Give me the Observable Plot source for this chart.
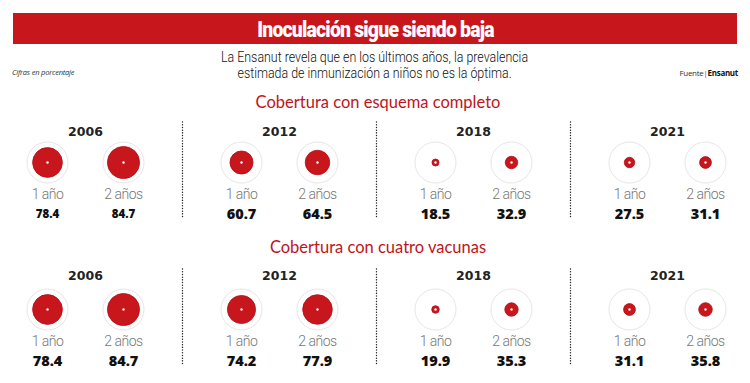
<!DOCTYPE html>
<html><head><meta charset="utf-8">
<script src="https://cdn.jsdelivr.net/npm/d3@7"></script>
<script src="https://cdn.jsdelivr.net/npm/@observablehq/plot@0.6"></script>
<style>
body{margin:0;width:750px;height:383px;overflow:hidden;background:#fff;position:relative;font-family:Roboto,sans-serif;color:#222}
#bar{position:absolute;left:13px;top:13px;width:724px;height:31px;background:#c8161d;display:flex;align-items:center;justify-content:center}
#bar h1{margin:0;color:#fff;font-weight:900;font-size:22.5px;font-family:"Liberation Sans Narrow","Roboto",sans-serif;letter-spacing:-0.9px;transform:scaleX(0.86);white-space:nowrap}
#sub{position:absolute;left:0;width:750px;top:50px;text-align:center;font-size:14.5px;line-height:15.5px;font-weight:300;color:#111}
#sub span{display:inline-block;transform:scaleX(0.855);white-space:nowrap}
#cifras{position:absolute;left:12px;top:67px;font-size:7.5px;font-style:italic;color:#333;font-family:"Open Sans",sans-serif;letter-spacing:-0.2px}
#fuente{position:absolute;right:12px;top:67px;font-size:8px;color:#333;font-family:"Open Sans",sans-serif;letter-spacing:-0.3px}
#fuente b{color:#111}
#fuente i{font-style:normal;color:#c8161d}
.sec{position:absolute;left:0;width:756px;text-align:center;color:#c0141b;font-size:16.5px;font-family:Lato,"Open Sans",sans-serif}
.chart{position:absolute;left:-12px}
</style></head>
<body>
<div id="bar"><h1>Inoculación sigue siendo baja</h1></div>
<div id="sub"><span>La Ensanut revela que en los últimos años, la prevalencia<br>estimada de inmunización a niños no es la óptima.</span></div>
<div id="cifras">Cifras en porcentaje</div>
<div id="fuente">Fuente<i>|</i><b>Ensanut</b></div>
<div class="sec" style="top:92px">Cobertura con esquema completo</div>
<div class="chart" id="c1" style="top:117px"></div>
<div class="sec" style="top:237px">Cobertura con cuatro vacunas</div>
<div class="chart" id="c2" style="top:264px"></div>
<script>
const years = ["2006", "2012", "2018", "2021"];
const ages = ["1 año", "2 años"];
const completoUnAno = [78.4, 60.7, 18.5, 27.5];
const completoDosAnos = [84.7, 64.5, 32.9, 31.1];
const cuatroUnAno = [78.4, 74.2, 19.9, 31.1];
const cuatroDosAnos = [84.7, 77.9, 35.3, 35.8];

const red = "#c8161d";

function chart(v1, v2, yearDy, smallFirst) {
  const data = years.flatMap((y, i) => [
    {year: y, age: ages[0], value: v1[i]},
    {year: y, age: ages[1], value: v2[i]}
  ]);
  const svg = Plot.plot({
    width: 776,
    height: 111,
    marginTop: 0, marginLeft: 0, marginRight: 0, marginBottom: 21,
    style: {maxWidth: "none", overflow: "visible", background: "transparent"},
    fx: {domain: years, padding: 0, axis: null},
    x: {type: "point", domain: ages, padding: 0.776, axis: null},
    r: {type: "linear", domain: [0, 100], range: [0, 19]},
    marks: [
      Plot.ruleX(years.slice(0, -1), {fx: d => d, x: null, dx: 97, insetTop: 5, insetBottom: -12,
        stroke: "#222", strokeWidth: 1.4, strokeDasharray: "0.1,2.6", strokeLinecap: "round"}),
      Plot.text(years, {fx: d => d, text: d => d, frameAnchor: "middle", dy: yearDy,
        fontFamily: "DejaVu Sans", fontWeight: "bold", fontSize: 12.5, fill: "#222"}),
      Plot.dot(data, {fx: "year", x: "age", r: 20.5, fill: "white", stroke: "#e6e6e6", strokeWidth: 1}),
      Plot.dot(data, {fx: "year", x: "age", r: "value", fill: red, stroke: "#b00f16", strokeWidth: 0.8}),
      Plot.dot(data, {fx: "year", x: "age", r: 1.2, fill: "white"}),
      Plot.text(data, {fx: "year", x: "age", text: "age", frameAnchor: "middle", dy: 32,
        fontFamily: "Roboto", fontWeight: 300, fontSize: 14, fill: "#777"}),
      Plot.text(data, {fx: "year", x: "age", text: d => d.value.toFixed(1), frameAnchor: "middle", dy: 52,
        fontFamily: "Open Sans", fontWeight: 800,
        fontSize: d => (smallFirst && d.year === years[0]) ? 11.5 : 14.5, fill: "#111"})
    ]
  });
  d3.select(svg).selectAll("text")
    .filter(function() { return ages.includes(this.textContent); })
    .attr("letter-spacing", "-0.5");
  return svg;
}

document.getElementById("c1").append(chart(completoUnAno, completoDosAnos, -31, true));
document.getElementById("c2").append(chart(cuatroUnAno, cuatroDosAnos, -34, false));
</script>
</body></html>
